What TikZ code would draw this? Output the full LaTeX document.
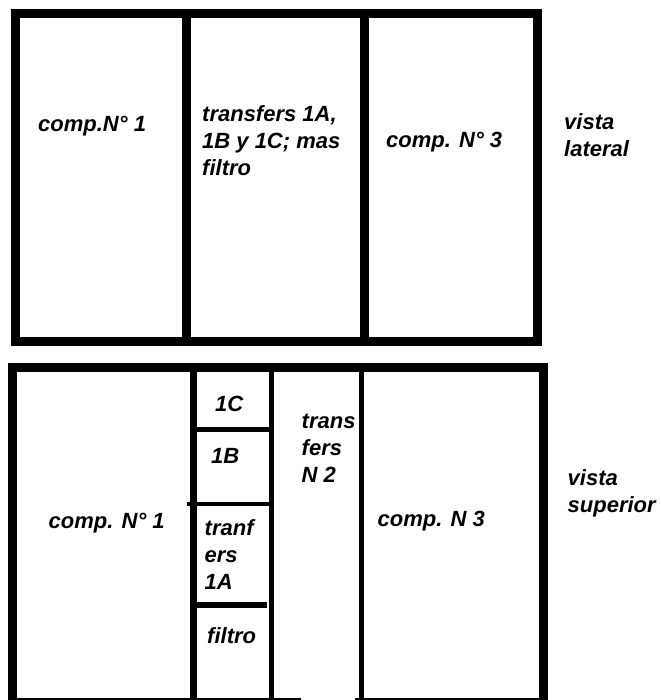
\documentclass[tikz,border=0pt]{standalone}
\usepackage{fontspec}
\setmainfont{Liberation Sans}
\usepackage{tikz}
\usetikzlibrary{positioning}
\definecolor{ink}{RGB}{0,0,0}
\tikzset{
  wall/.style={draw=ink,line width=9pt},
  part/.style={draw=ink,line width=5pt},
  lbl/.style={font=\fontsize{22}{27}\selectfont\bfseries\itshape,
    inner sep=0pt,anchor=base west,align=left,text=ink},
}

\begin{document}
\begin{tikzpicture}[x=1pt,y=-1pt]
  \useasboundingbox (0,0) rectangle (660,700);
  \clip (0,0) rectangle (660,700);

  % vista lateral
  \draw[wall] (15,13.3) rectangle (537.5,341);
  \draw[wall] (186.5,13.3) -- (186.5,341);
  \draw[wall] (364,13.3) -- (364,341);
  \node[lbl] (comp1L) at (38,132) {comp.N° 1};
  \node[lbl] (transL) at (202,176) {transfers 1A,\\1B y 1C; mas\\filtro};
  \node[lbl] (comp3L) at (386,148) {comp. N° 3};
  \node[lbl] (vistaL) at (564,157) {vista\\lateral};

  % vista superior
  \draw[wall] (301,702.5) -| (12,367.5) -| (543.5,702.5) -- (355,702.5);
  \draw[wall,line width=7pt] (193.5,367.5) -- (193.5,702.5);
  \draw[part] (271.5,367.5) -- (271.5,702.5);
  \draw[part,line width=5.5pt] (361.7,367.5) -- (361.7,702.5);
  \draw[part] (197,429) -- (269,429);
  \draw[part,line width=4pt] (187,503.5) -- (269,503.5);
  \draw[part,line width=6pt] (197,605) -- (267,605);
  \node[lbl] (c1C) at (215,411) {1C};
  \node[lbl] (c1B) at (211,463) {1B};
  \node[lbl] (tr1A) at (204.5,589) {tranf\\ers\\1A};
  \node[lbl] (filtro) at (207,643) {filtro};
  \node[lbl] (trN2) at (301.5,482) {trans\\fers\\N 2};
  \node[lbl] (comp1S) at (48.5,528) {comp. N° 1};
  \node[lbl] (comp3S) at (377.5,526) {comp. N 3};
  \node[lbl] (vistaS) at (567.5,512) {vista\\superior};
\end{tikzpicture}
\end{document}
